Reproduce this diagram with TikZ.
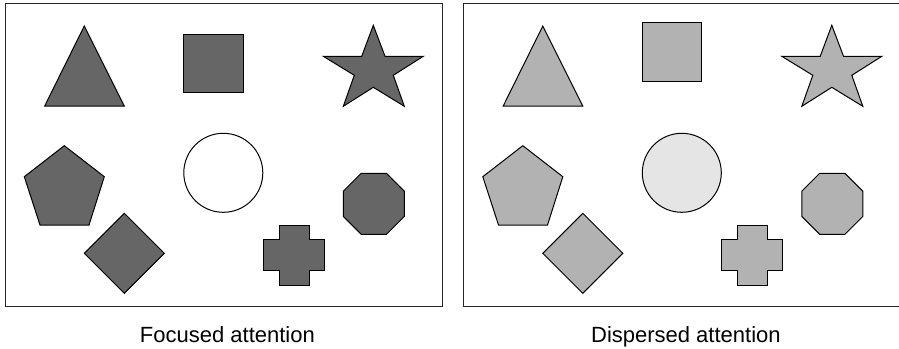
\documentclass[tikz,border=0pt]{standalone}
\usepackage{fontspec}
\setmainfont{Liberation Sans}
\usetikzlibrary{positioning}

% one panel of figures: #1 shift, #2 fill, #3 circle fill, #4 square top
\newcommand{\figurepanel}[4]{%
  \begin{scope}[xshift=#1pt, figure/.style={draw=black, line width=1pt, fill=#2}]
    \draw[figure] (84.3,26) -- (124.3,106) -- (44.7,106) -- cycle;
    \draw[figure] (183.5,#4) rectangle ++(59.5,58.5);
    \draw[figure] (373.3,25.3) -- (385,56.3) -- (423.3,56.3) -- (393.3,75.3) -- (404.3,106.3)
      -- (373.3,87.3) -- (343.3,106.3) -- (354.3,75.3) -- (323.3,56.3) -- (361.7,56.3) -- cycle;
    \draw[figure] (64.3,145.7) -- (104.3,176.7) -- (89,225) -- (40,225) -- (24.3,176.7) -- cycle;
    \draw[figure, fill=#3] (223.3,172.8) circle[radius=39.5];
    \draw[figure] (124.3,213.3) -- (164.3,253.3) -- (124.3,293.3) -- (84.3,253.3) -- cycle;
    \draw[figure] (279,225) -- (309,225) -- (309,239.3) -- (324.3,239.3) -- (324.3,270) -- (309,270)
      -- (309,285.7) -- (279,285.7) -- (279,270) -- (263.3,270) -- (263.3,239.3) -- (279,239.3) -- cycle;
    \draw[figure] (361.2,173.3) -- (386.4,173.3) -- (404.3,191.2) -- (404.3,216.4) -- (386.4,234.3)
      -- (361.2,234.3) -- (343.3,216.4) -- (343.3,191.2) -- cycle;
  \end{scope}}

\begin{document}
\begin{tikzpicture}[
    x=1pt, y=-1pt,
    frame/.style={draw=black!85, line width=1pt, minimum width=437.8pt,
                  minimum height=302.7pt, anchor=north west, inner sep=0pt},
    caption/.style={font=\fontsize{22}{26}\selectfont, anchor=base, inner sep=0pt}
  ]
  \useasboundingbox (0,0) rectangle (899,348);
  \clip (0,0) rectangle (899,348);

  \node[frame] (focusedframe)   at (4.5,3) {};
  \node[frame] (dispersedframe) at (463,3) {};

  \figurepanel{0}{black!60}{white}{34.2}
  \figurepanel{458.5}{black!30}{black!10}{22.5}

  \node[caption] (focusedlbl)   at ([xshift=3.5pt, yshift=-36pt]focusedframe.south) {Focused attention};
  \node[caption] (dispersedlbl) at ([xshift=3.5pt, yshift=-36pt]dispersedframe.south) {Dispersed attention};
\end{tikzpicture}
\end{document}
